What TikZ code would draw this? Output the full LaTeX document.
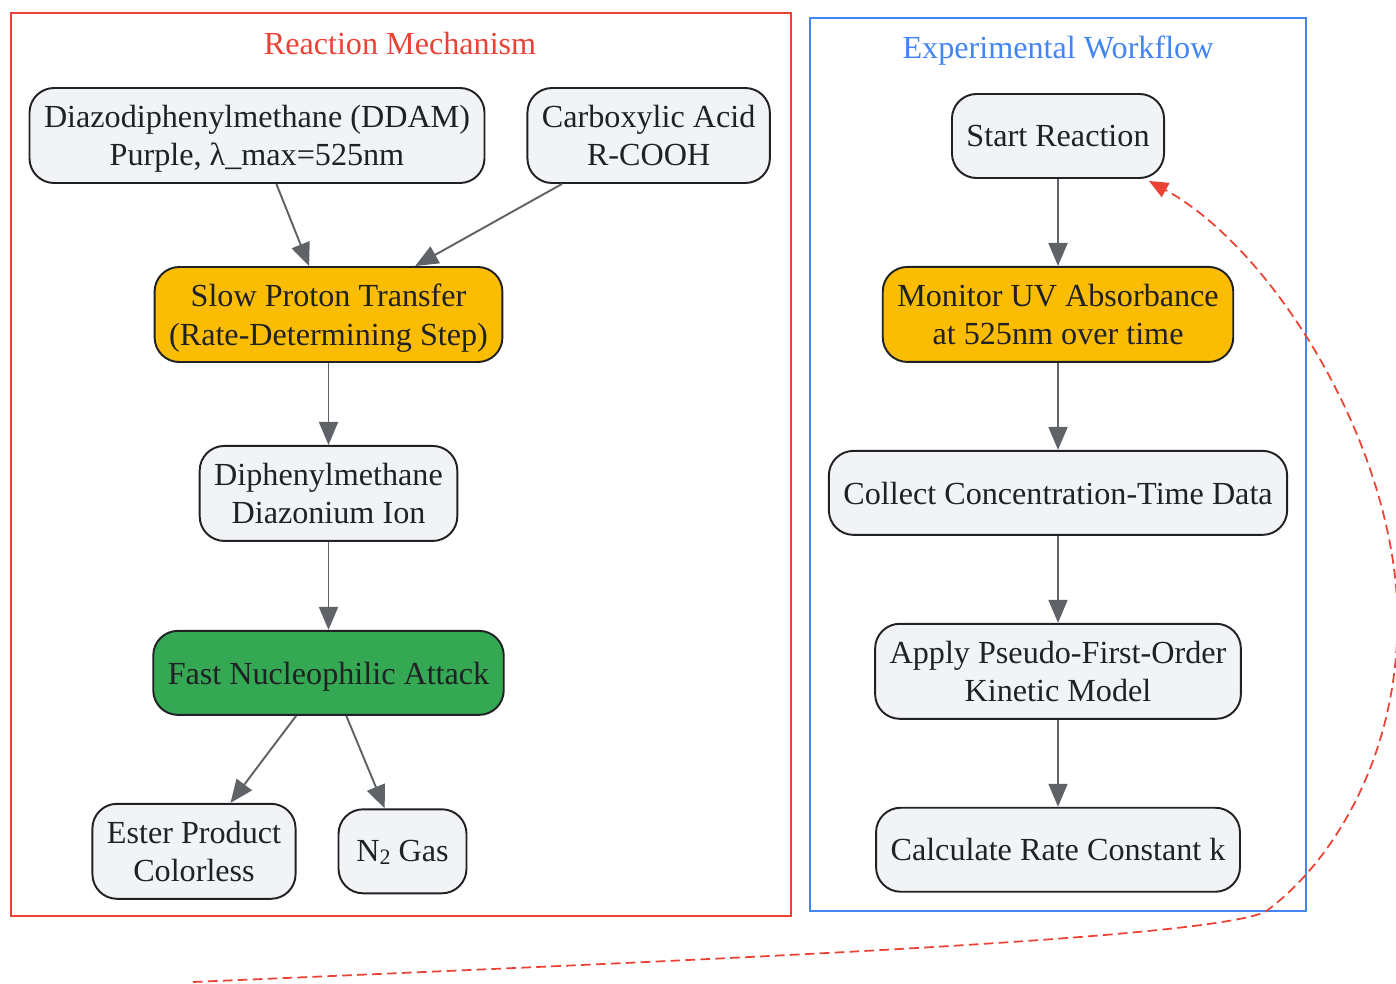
\documentclass[tikz,border=0pt]{standalone}
\usepackage{fontspec}
\setmainfont{Liberation Serif}
\usetikzlibrary{arrows.meta,positioning,calc}

\definecolor{ink}{HTML}{202124}
\definecolor{boxfill}{HTML}{F1F3F4}
\definecolor{gyellow}{HTML}{FBBC04}
\definecolor{ggreen}{HTML}{34A853}
\definecolor{edgegray}{HTML}{5F6368}
\definecolor{mechred}{HTML}{EA4335}
\definecolor{flowblue}{HTML}{4285F4}

\begin{document}
\begin{tikzpicture}[
  every node/.style={font=\fontsize{18.3}{22}\selectfont, text=ink},
  box/.style={draw=ink, line width=1.1pt, rounded corners=14pt, fill=boxfill,
  align=center, inner xsep=0.29cm, minimum height=1.68cm, text depth=0pt},
  twoline/.style={minimum height=1.9cm},
  slowstep/.style={fill=gyellow},
  faststep/.style={fill=ggreen},
  flow/.style={draw=edgegray, line width=1.1pt, -{Triangle[length=0.46cm,width=0.38cm]}},
  loopback/.style={draw=mechred, line width=1pt, dash pattern=on 5.5pt off 3pt,
  -{Triangle[length=0.38cm,width=0.32cm]}},
  node distance=1.74cm
]
\useasboundingbox (0,0) rectangle (27.92,-19.66);
% clusters
\draw[mechred, line width=1pt] (0.22,-0.26) rectangle (15.82,-18.32);
\node[text=mechred] (mechtitle) at (8.0,-0.88) {Reaction Mechanism};
\draw[flowblue, line width=1pt] (16.2,-0.36) rectangle (26.12,-18.22);
\node[text=flowblue] (flowtitle) at (21.16,-1.02) {Experimental Workflow};
% reaction mechanism
\node[box, twoline] (ddam) at (5.14,-2.71) {Diazodiphenylmethane (DDAM)\\ Purple, λ\_max=525nm};
\node[box, twoline, right=0.82cm of ddam] (acid) {Carboxylic Acid\\ R-COOH};
\node[box, twoline, slowstep] (slow) at (6.57,-6.29) {Slow Proton Transfer\\ (Rate-Determining Step)};
\node[box, twoline, below=1.64cm of slow] (ion) {Diphenylmethane\\ Diazonium Ion};
\node[box, faststep, below=1.76cm of ion] (fast) {Fast Nucleophilic Attack};
\node[box, twoline, below=1.74cm of fast, xshift=-2.69cm] (ester) {Ester Product\\ Colorless};
\node[box, minimum width=2.56cm, right=0.82cm of ester] (gas) {N\raisebox{-0.15ex}{\fontsize{12.5}{12.5}\selectfont 2} Gas};
% experimental workflow
\node[box] (start) at (21.16,-2.72) {Start Reaction};
\node[box, twoline, slowstep, below=of start] (monitor) {Monitor UV Absorbance\\ at 525nm over time};
\node[box, below=of monitor] (collect) {Collect Concentration-Time Data};
\node[box, twoline, below=of collect] (apply) {Apply Pseudo-First-Order\\ Kinetic Model};
\node[box, below=of apply] (calc) {Calculate Rate Constant k};
% edges
\foreach \a/\b in {ddam/slow, acid/slow, slow/ion, ion/fast, fast/ester, fast/gas,
  start/monitor, monitor/collect, collect/apply, apply/calc}
  \draw[flow] (\a) -- (\b);
% loop back to the start
\coordinate (loopin) at (3.86,-19.64);
\draw[loopback] (loopin) .. controls (14,-19.2) and (24,-18.8) .. (25.3,-18.24)
  .. controls (26.6,-17.3) and (27.95,-15.2) .. (27.95,-12.4)
  .. controls (27.95,-9) and (25.5,-5) .. ($(start.south east)+(-0.32,-0.04)$);
\end{tikzpicture}
\end{document}
